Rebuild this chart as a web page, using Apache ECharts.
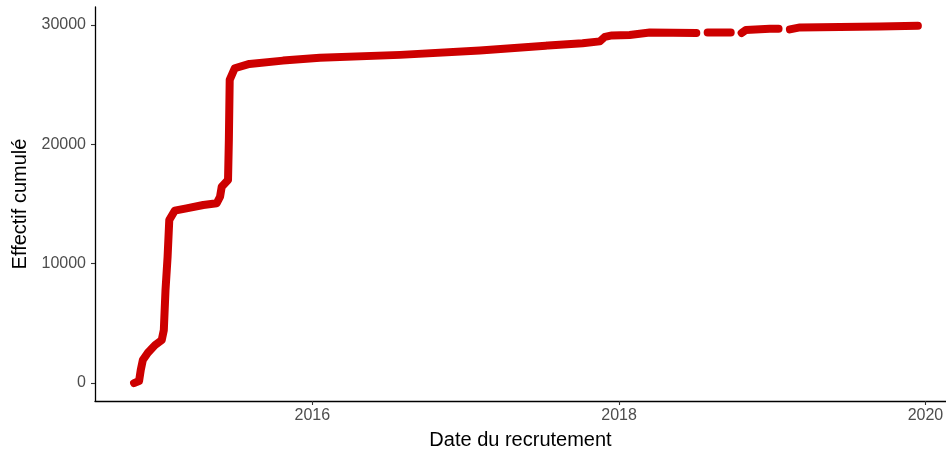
<!DOCTYPE html>
<html>
<head>
<meta charset="utf-8">
<script src="https://cdn.jsdelivr.net/npm/echarts@6/dist/echarts.min.js"></script>
<style>
html,body{margin:0;padding:0;background:#fff;}
#chart{width:946px;height:450px;}
</style>
</head>
<body>
<div id="chart"></div>
<script>
// Dates of recruitment (null value = visible gap between point clusters)
const dates = [
  '2014-11-02','2014-11-14','2014-11-18','2014-11-23','2014-12-05','2014-12-22',
  '2015-01-07','2015-01-12','2015-01-16','2015-01-21','2015-01-25','2015-02-07',
  '2015-03-07','2015-04-16','2015-05-18','2015-05-26','2015-05-30','2015-06-14',
  '2015-06-16','2015-06-18','2015-06-30','2015-08-04','2015-10-23','2016-01-19',
  '2016-07-28','2017-02-03','2017-07-10','2017-07-13','2017-07-16','2017-10-06',
  '2017-11-16','2017-11-28','2017-12-15','2018-01-26','2018-03-15','2018-07-04',
  '2018-07-17','2018-07-31','2018-09-24','2018-10-07','2018-10-20','2018-10-30',
  '2018-12-26','2019-01-16','2019-01-30','2019-02-12','2019-03-08','2019-06-11',
  '2019-09-14','2019-12-14'
];
const cumul = [
  0,170,1090,1930,2540,3180,
  3600,4440,7790,10580,13660,14440,
  14640,14920,15060,15610,16450,17010,
  20360,25390,26370,26730,27010,27240,
  27490,27860,28260,null,28270,28470,
  28620,29000,29120,29160,29360,29330,
  null,29360,29370,null,29330,29580,
  29670,29670,null,29620,29790,29830,
  29870,29930
];
const yTicks = [0, 10000, 20000, 30000];
const xTickYears = [2016, 2018, 2020];

function ts(s) { const p = s.split('-').map(Number); return Date.UTC(p[0], p[1] - 1, p[2]); }

const chart = echarts.init(document.getElementById('chart'), null, {renderer: 'canvas'});
const data = dates.map((d, i) => [ts(d), cumul[i] === null ? '-' : cumul[i]]);
const xTicks = xTickYears.map(y => Date.UTC(y, 0, 1));

chart.setOption({
  animation: false,
  backgroundColor: '#ffffff',
  grid: {left: 95, right: 0, top: 7, bottom: 49, containLabel: false, outerBoundsMode: 'none'},
  xAxis: {
    type: 'value',
    min: ts('2014-08-01'),
    max: ts('2020-02-19'),
    name: 'Date du recrutement',
    nameLocation: 'middle',
    nameGap: 29,
    nameTextStyle: {fontFamily: 'Liberation Sans', fontSize: 20, color: '#000'},
    axisLine: {show: true, onZero: false, lineStyle: {color: '#000', width: 1.3}},
    axisTick: {show: true, length: 4, customValues: xTicks, lineStyle: {color: '#333', width: 1.1}},
    axisLabel: {
      customValues: xTicks,
      margin: 7,
      fontFamily: 'Liberation Sans', fontSize: 16, color: '#4D4D4D',
      formatter: v => String(new Date(v).getUTCFullYear())
    },
    splitLine: {show: false}
  },
  yAxis: {
    type: 'value',
    min: -1500,
    max: 31500,
    name: 'Effectif cumulé',
    nameLocation: 'middle',
    nameGap: 64,
    nameTextStyle: {fontFamily: 'Liberation Sans', fontSize: 20, color: '#000'},
    axisLine: {show: true, onZero: false, lineStyle: {color: '#000', width: 1.3}},
    axisTick: {show: true, length: 4, customValues: yTicks, lineStyle: {color: '#333', width: 1.1}},
    axisLabel: {
      customValues: yTicks,
      margin: 9,
      fontFamily: 'Liberation Sans', fontSize: 16, color: '#4D4D4D',
      formatter: v => String(v)
    },
    splitLine: {show: false}
  },
  series: [{
    type: 'line',
    data: data,
    showSymbol: false,
    connectNulls: false,
    color: '#CD0000',
    lineStyle: {color: '#CD0000', width: 8, cap: 'round', join: 'round'},
    emphasis: {disabled: true}
  }]
});
</script>
</body>
</html>
